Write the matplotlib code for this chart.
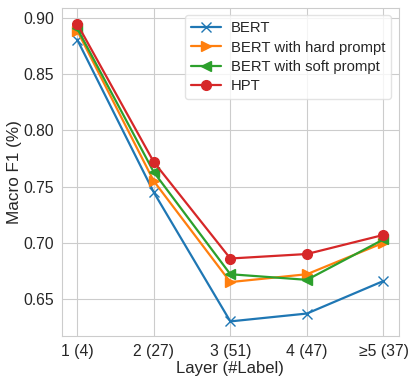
import matplotlib
matplotlib.use("Agg")
from matplotlib import pyplot as plt
import seaborn as sns

layers = ["1 (4)", "2 (27)", "3 (51)", "4 (47)", "≥5 (37)"]
bert = [0.881, 0.745, 0.630, 0.637, 0.666]
bert_hard = [0.889, 0.755, 0.665, 0.672, 0.700]
bert_soft = [0.891, 0.763, 0.672, 0.667, 0.703]
hpt = [0.895, 0.772, 0.686, 0.690, 0.707]

sns.set_style("whitegrid")
plt.rcParams["font.family"] = ["Liberation Sans", "DejaVu Sans"]

fig = plt.figure(figsize=(4.15, 3.84), dpi=100)
ax = fig.add_axes([0.149, 0.125, 0.812, 0.854])

x = range(len(layers))
ax.plot(x, bert, marker="x", color="#1f77b4", label="BERT", lw=1.6, ms=7)
ax.plot(x, bert_hard, marker=">", color="#ff7f0e", label="BERT with hard prompt", lw=1.6, ms=7)
ax.plot(x, bert_soft, marker="<", color="#2ca02c", label="BERT with soft prompt", lw=1.6, ms=7)
ax.plot(x, hpt, marker="o", color="#d62728", label="HPT", lw=1.6, ms=7)

ax.set_xticks(list(x))
ax.set_xticklabels(layers)
ax.set_xlim(-0.2, 4.2)
ax.set_ylim(0.617, 0.909)
ax.set_yticks([0.65, 0.70, 0.75, 0.80, 0.85, 0.90])
ax.tick_params(axis="both", labelsize=11.3, pad=2)
ax.set_xlabel("Layer (#Label)", fontsize=12, labelpad=2)
ax.set_ylabel("Macro F1 (%)", fontsize=12.3, labelpad=1)
for s in ax.spines.values():
    s.set_color("#cccccc")
leg = ax.legend(loc="upper right", fontsize=10.7, frameon=True, borderaxespad=0.5,
                handlelength=2.0, labelspacing=0.35, handletextpad=0.7)
leg.get_frame().set_edgecolor("#dddddd")

plt.savefig("out.png", dpi=100)
